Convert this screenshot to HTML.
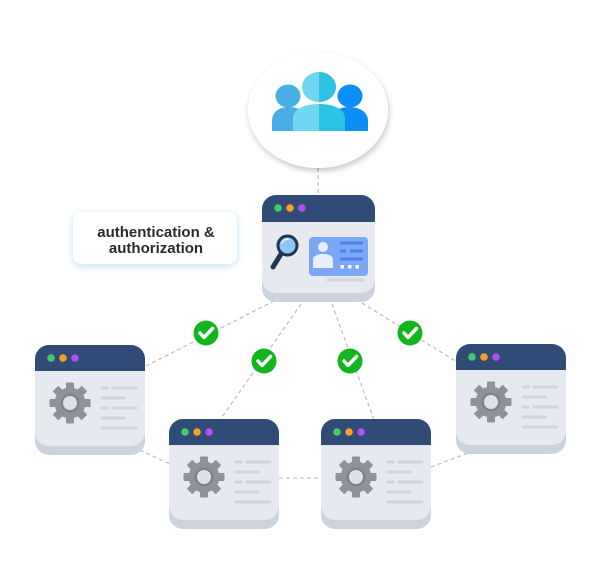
<!DOCTYPE html>
<html>
<head>
<meta charset="utf-8">
<style>
html,body{margin:0;padding:0;background:#ffffff;}
svg{display:block;}
text{font-family:"Liberation Sans","DejaVu Sans",sans-serif;}
</style>
</head>
<body>
<svg width="600" height="569" viewBox="0 0 600 569" xmlns="http://www.w3.org/2000/svg">
<defs>
  <filter id="sh" x="-30%" y="-30%" width="160%" height="160%">
    <feDropShadow dx="1" dy="3" stdDeviation="3" flood-color="#000" flood-opacity="0.22"/>
  </filter>
  <filter id="blu" x="-30%" y="-50%" width="160%" height="200%">
    <feDropShadow dx="0" dy="2" stdDeviation="4" flood-color="#8cc8f2" flood-opacity="0.55"/>
  </filter>
  <g id="gear">
    <circle r="15.5" fill="#8e9399"/>
    <rect x="-4" y="-20.5" width="8" height="8" rx="1" fill="#8e9399"/>
    <rect x="-4" y="-20.5" width="8" height="8" rx="1" fill="#8e9399" transform="rotate(45)"/>
    <rect x="-4" y="-20.5" width="8" height="8" rx="1" fill="#8e9399" transform="rotate(90)"/>
    <rect x="-4" y="-20.5" width="8" height="8" rx="1" fill="#8e9399" transform="rotate(135)"/>
    <rect x="-4" y="-20.5" width="8" height="8" rx="1" fill="#8e9399" transform="rotate(180)"/>
    <rect x="-4" y="-20.5" width="8" height="8" rx="1" fill="#8e9399" transform="rotate(225)"/>
    <rect x="-4" y="-20.5" width="8" height="8" rx="1" fill="#8e9399" transform="rotate(270)"/>
    <rect x="-4" y="-20.5" width="8" height="8" rx="1" fill="#8e9399" transform="rotate(315)"/>
    <circle r="9.5" fill="#7e8389"/>
    <circle r="7" fill="#dde1e6"/>
  </g>
  <g id="win">
    <rect x="0" y="0" width="110" height="110" rx="14" fill="#cdd3dc"/>
    <rect x="0" y="0" width="110" height="101" rx="14" fill="#e6e9ef"/>
    <path d="M0,26 V14 A14,14 0 0 1 14,0 H96 A14,14 0 0 1 110,14 V26 Z" fill="#2f4b76"/>
    <circle cx="16" cy="13" r="3.8" fill="#3fcb6b"/>
    <circle cx="28" cy="13" r="3.8" fill="#f4a020"/>
    <circle cx="40" cy="13" r="3.8" fill="#b04ef0"/>
    <use href="#gear" x="35" y="58"/>
    <g stroke="#cfd5de" stroke-width="3" stroke-linecap="round">
      <line x1="67" y1="43" x2="72" y2="43"/>
      <line x1="78" y1="43" x2="101" y2="43"/>
      <line x1="67" y1="53" x2="89" y2="53"/>
      <line x1="67" y1="63" x2="72" y2="63"/>
      <line x1="78" y1="63" x2="101" y2="63"/>
      <line x1="67" y1="73" x2="89" y2="73"/>
      <line x1="67" y1="83" x2="101" y2="83"/>
    </g>
  </g>
  <g id="chk">
    <circle r="12.5" fill="#12b51b"/>
    <path d="M-6,0 L-2,4.5 L6.5,-4.5" fill="none" stroke="#fff" stroke-width="3.5" stroke-linecap="round" stroke-linejoin="round"/>
  </g>
</defs>

<!-- connectors -->
<g stroke="#b3b7bd" stroke-width="1.1" stroke-dasharray="4 3" fill="none">
  <line x1="318" y1="168" x2="318" y2="196"/>
  <line x1="146" y1="366" x2="276" y2="300"/>
  <line x1="301" y1="304" x2="220" y2="420"/>
  <line x1="332" y1="304" x2="374" y2="420"/>
  <line x1="362" y1="303" x2="457" y2="362"/>
  <line x1="140" y1="450" x2="170" y2="464"/>
  <line x1="279" y1="478" x2="321" y2="478"/>
  <line x1="431" y1="467" x2="468" y2="453"/>
</g>

<!-- users ellipse -->
<ellipse cx="318" cy="110" rx="70" ry="58" fill="#ffffff" filter="url(#sh)"/>
<g>
  <ellipse cx="288" cy="96" rx="12.5" ry="11.5" fill="#4aaee6"/>
  <path d="M272,131 V121 C272,111 280,107 289,107 C298,107 306,111 306,121 V131 Z" fill="#4aaee6"/>
  <ellipse cx="350" cy="96" rx="12.5" ry="11.5" fill="#0b8ff5"/>
  <path d="M331,131 V121 C331,111 340,107 349,107 C358,107 368,111 368,121 V131 Z" fill="#0b8ff5"/>
  <ellipse cx="319" cy="87" rx="17" ry="15" fill="#6fd6f0"/>
  <path d="M319,72 A17,15 0 0 1 319,102 Z" fill="#2bc2e3"/>
  <path d="M293,131 V118 C293,109 305,104 319,104 V131 Z" fill="#6fd6f0"/>
  <path d="M319,131 V104 C333,104 345,109 345,118 V131 Z" fill="#2bc2e3"/>
</g>

<!-- top auth window -->
<g>
  <rect x="262" y="195" width="113" height="107" rx="14" fill="#cdd3dc"/>
  <rect x="262" y="195" width="113" height="98" rx="14" fill="#e6e9ef"/>
  <path d="M262,222 V209 A14,14 0 0 1 276,195 H361 A14,14 0 0 1 375,209 V222 Z" fill="#2f4b76"/>
  <circle cx="278" cy="208" r="3.8" fill="#3fcb6b"/>
  <circle cx="290" cy="208" r="3.8" fill="#f4a020"/>
  <circle cx="302" cy="208" r="3.8" fill="#b04ef0"/>
  <!-- magnifier -->
  <line x1="281" y1="254" x2="273" y2="267" stroke="#1f3552" stroke-width="5" stroke-linecap="round"/>
  <circle cx="287.5" cy="245.5" r="9.5" fill="#8ec6f6" stroke="#1f3552" stroke-width="3"/>
  <path d="M282,243 A6,6 0 0 1 288,239" fill="none" stroke="#d8ecff" stroke-width="1.8" stroke-linecap="round"/>
  <!-- id card -->
  <rect x="309" y="237" width="59" height="39" rx="4" fill="#7aa8f7"/>
  <circle cx="323" cy="247" r="5" fill="#e9effa"/>
  <path d="M313,268 V260 C313,256 317,254 323,254 C329,254 333,256 333,260 V268 Z" fill="#e9effa"/>
  <g stroke="#4b80ea" stroke-width="3">
    <line x1="340" y1="243" x2="363" y2="243"/>
    <line x1="340" y1="251" x2="346" y2="251"/>
    <line x1="350" y1="251" x2="363" y2="251"/>
    <line x1="340" y1="259" x2="363" y2="259"/>
  </g>
  <rect x="340.5" y="265" width="3.5" height="3.5" fill="#ffffff"/>
  <rect x="348" y="265" width="3.5" height="3.5" fill="#ffffff"/>
  <rect x="355.5" y="265" width="3.5" height="3.5" fill="#ffffff"/>
  <line x1="328" y1="280" x2="363" y2="280" stroke="#cfd5de" stroke-width="3" stroke-linecap="round"/>
</g>

<!-- label -->
<rect x="73" y="212" width="164" height="52" rx="8" fill="#ffffff" filter="url(#blu)"/>
<text x="156" y="237" text-anchor="middle" font-size="15" font-weight="700" fill="#2b2b2d">authentication &amp;</text>
<text x="156" y="253" text-anchor="middle" font-size="15" font-weight="700" fill="#2b2b2d">authorization</text>

<!-- windows -->
<use href="#win" x="35" y="345"/>
<use href="#win" x="169" y="419"/>
<use href="#win" x="321" y="419"/>
<use href="#win" x="456" y="344"/>

<!-- checks -->
<use href="#chk" x="206" y="333"/>
<use href="#chk" x="264" y="361"/>
<use href="#chk" x="350" y="361"/>
<use href="#chk" x="410" y="333"/>
</svg>
</body>
</html>
